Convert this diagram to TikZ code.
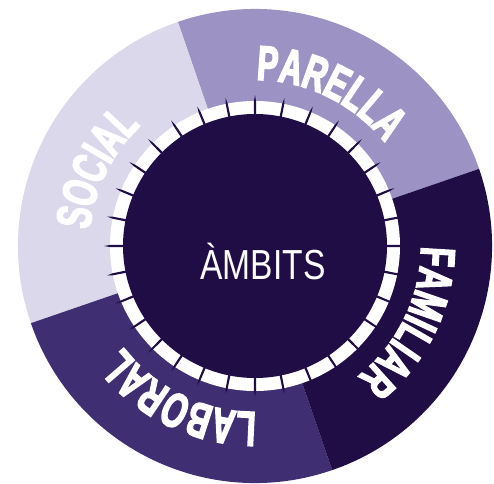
\documentclass[tikz,border=0pt]{standalone}
\usepackage{fontspec}
\setmainfont{Liberation Sans}
\newfontfamily\labelfont{Liberation Sans Bold}[FakeStretch=0.64,FakeBold=3]
\newfontfamily\centerfont{Liberation Sans}[FakeStretch=0.8]
\usetikzlibrary{decorations.text}
\definecolor{cSocial}{HTML}{DCD8EC}
\definecolor{cParella}{HTML}{9C93C4}
\definecolor{cFamiliar}{HTML}{200D45}
\definecolor{cLaboral}{HTML}{3F2E72}
\definecolor{cCenter}{HTML}{200D45}
\tikzset{
  arclabel/.style={decorate, decoration={text along path, text align=center,
    text color=white, text format delimiters={|}{|},
    text={|\labelfont\fontsize{49}{49}\selectfont|#1}}},
  sector/.style={fill=#1},
  tickmark/.style={fill=cCenter}
}
\begin{document}
\begin{tikzpicture}[x=1pt,y=1pt]
\useasboundingbox (0,0) rectangle (494,483);
\fill[white] (0,0) rectangle (494,483);
\begin{scope}[shift={(255,237)}]
  % sectors
  \fill[sector=cParella] (0,0) -- (19:237) arc[start angle=19, end angle=109, radius=237] -- cycle;
  \fill[sector=cSocial] (0,0) -- (109:237) arc[start angle=109, end angle=199, radius=237] -- cycle;
  \fill[sector=cLaboral] (0,0) -- (199:237) arc[start angle=199, end angle=289, radius=237] -- cycle;
  \fill[sector=cFamiliar] (0,0) -- (289:237) arc[start angle=289, end angle=379, radius=237] -- cycle;
  % ring
  \fill[white] (0,0) circle[radius=145];
  \fill[cCenter] (0,0) circle[radius=132];
  \foreach \k in {0,...,31}{
    \pgfmathsetmacro{\a}{\k*11.25}
    \fill[tickmark] (\a-0.5:130) -- (\a+0.5:130) -- (\a+0.4:145) -- (\a:151) -- (\a-0.4:145) -- cycle;
  }
  % labels
  \path[arclabel=PARELLA] (109:166) arc[start angle=109, end angle=19, radius=166];
  \path[arclabel=SOCIAL] (199:166) arc[start angle=199, end angle=109, radius=166];
  \path[arclabel=FAMILIAR] (19:166) arc[start angle=19, end angle=-71, radius=166];
  \path[arclabel=LABORAL] (289:166) arc[start angle=289, end angle=199, radius=166];
  \node[anchor=base, text=white, inner sep=0pt, font=\centerfont\fontsize{42}{42}\selectfont] (title) at (8,-33) {ÀMBITS};
\end{scope}
\end{tikzpicture}
\end{document}
